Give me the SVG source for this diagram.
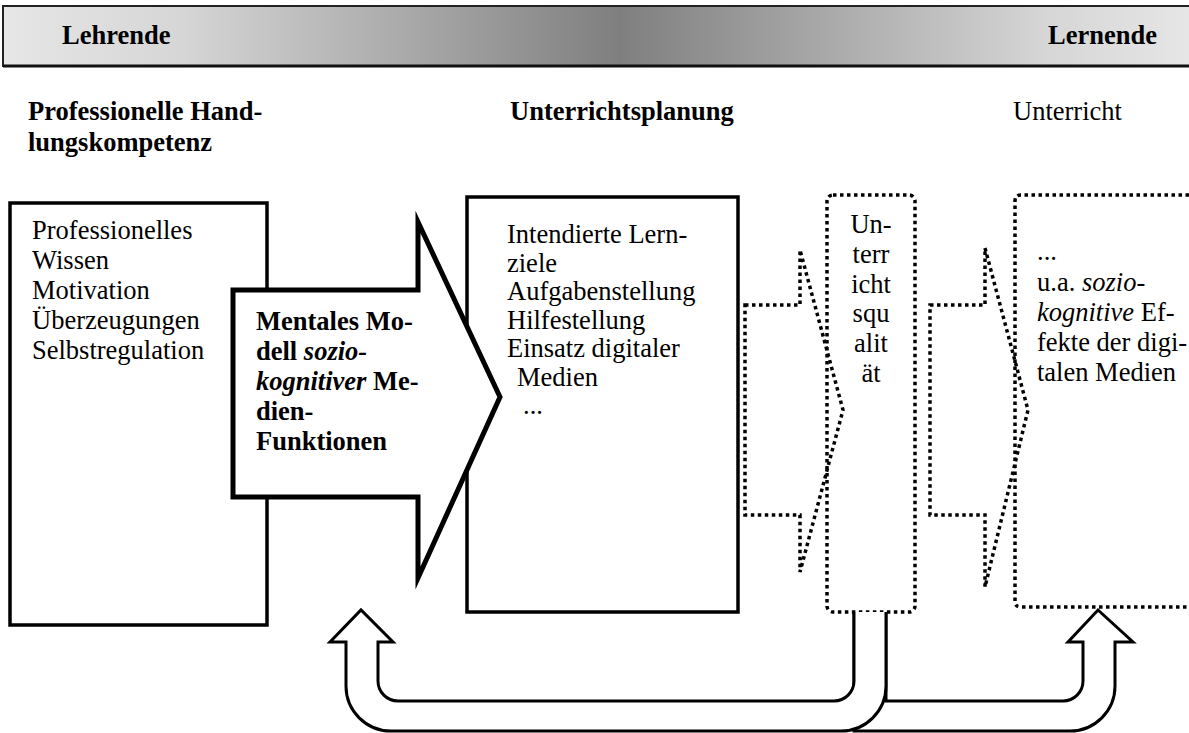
<svg xmlns="http://www.w3.org/2000/svg" width="1189" height="733" viewBox="0 0 1189 733">
<defs>
<linearGradient id="bar" gradientUnits="userSpaceOnUse" x1="3" y1="0" x2="1189" y2="0">
<stop offset="0" stop-color="#e6e6e6"/>
<stop offset="0.15" stop-color="#d6d6d6"/>
<stop offset="0.52" stop-color="#7f7f7f"/>
<stop offset="0.88" stop-color="#d6d6d6"/>
<stop offset="1" stop-color="#e6e6e6"/>
</linearGradient>
</defs>
<style>
text{font-family:"Liberation Serif","Times New Roman",serif;font-size:26.5px;fill:#000}
.b{font-weight:bold}
.i{font-style:italic}
.solid{fill:#fff;stroke:#000;stroke-width:3.5}
.dot{fill:none;stroke:#000;stroke-width:3.5;stroke-dasharray:3.5 3.5}
.u{fill:#fff;stroke:#000;stroke-width:3;stroke-linejoin:miter}
</style>
<rect width="1189" height="733" fill="#fff"/>

<g id="header">
<rect x="3" y="6" width="1190" height="60" fill="url(#bar)" stroke="#222" stroke-width="2"/>
<line x1="3" y1="66" x2="1189" y2="66" stroke="#111" stroke-width="3"/>
<text class="b" x="62" y="44">Lehrende</text>
<text class="b" x="1157" y="44" text-anchor="end">Lernende</text>
</g>

<g id="headings">
<text class="b" x="28" y="120">Professionelle Hand-</text>
<text class="b" x="28" y="151">lungskompetenz</text>
<text class="b" x="510" y="120">Unterrichtsplanung</text>
<text x="1013" y="120">Unterricht</text>
</g>

<g id="kompetenz">
<rect class="solid" x="10" y="203" width="257" height="422"/>
<text x="32" y="239">Professionelles</text>
<text x="32" y="269">Wissen</text>
<text x="32" y="299">Motivation</text>
<text x="32" y="329">Überzeugungen</text>
<text x="32" y="359">Selbstregulation</text>
</g>

<g id="planung">
<rect class="solid" x="467" y="197" width="271" height="415"/>
<text x="507" y="243">Intendierte Lern-</text>
<text x="507" y="272">ziele</text>
<text x="507" y="300">Aufgabenstellung</text>
<text x="507" y="329">Hilfestellung</text>
<text x="507" y="357">Einsatz digitaler</text>
<text x="517" y="386">Medien</text>
<text x="523" y="414">...</text>
</g>

<g id="mentales-modell">
<path d="M233,290 H418 V222 L500,397 L418,578 V497 H233 Z" fill="#fff" stroke="#000" stroke-width="5" stroke-miterlimit="10"/>
<text class="b" x="256" y="330">Mentales Mo-</text>
<text class="b" x="256" y="360">dell <tspan class="i">sozio-</tspan></text>
<text class="b" x="256" y="390"><tspan class="i">kognitiver</tspan> Me-</text>
<text class="b" x="256" y="420">dien-</text>
<text class="b" x="256" y="450">Funktionen</text>
</g>

<g id="unterrichtsqualitaet">
<rect class="dot" x="827" y="195" width="88" height="417" rx="6"/>
<text x="871" y="233" text-anchor="middle">Un-</text>
<text x="871" y="263" text-anchor="middle">terr</text>
<text x="871" y="293" text-anchor="middle">icht</text>
<text x="871" y="322" text-anchor="middle">squ</text>
<text x="871" y="352" text-anchor="middle">alit</text>
<text x="871" y="382" text-anchor="middle">ät</text>
</g>

<g id="effekte">
<path class="dot" d="M1189,195 H1021 Q1015,195 1015,201 V601 Q1015,607 1021,607 H1189"/>
<text x="1037" y="260">...</text>
<text x="1037" y="291">u.a. <tspan class="i">sozio-</tspan></text>
<text x="1037" y="321"><tspan class="i">kognitive</tspan> Ef-</text>
<text x="1037" y="351">fekte der digi-</text>
<text x="1037" y="381">talen Medien</text>
</g>

<g id="connectors">
<path class="dot" d="M745,305 H800 V250 L843,410 L800,572 V515 H745 Z"/>
<path class="dot" d="M930,305 H985 V248 L1028,410 L985,587 V515 H930 Z"/>
<path class="u" d="M854,612 V731 H1070 A45,45 0 0 0 1115,686 V642 H1133 L1098,610 L1068,642 H1083 V681 A20,20 0 0 1 1063,701 H886 V612"/>
<path class="u" d="M886,612 V686 A45,45 0 0 1 841,731 H391 A45,45 0 0 1 346,686 V642 H330 L361,610 L393,642 H378 V681 A20,20 0 0 0 398,701 H834 A20,20 0 0 0 854,681 V612"/>
</g>
</svg>
